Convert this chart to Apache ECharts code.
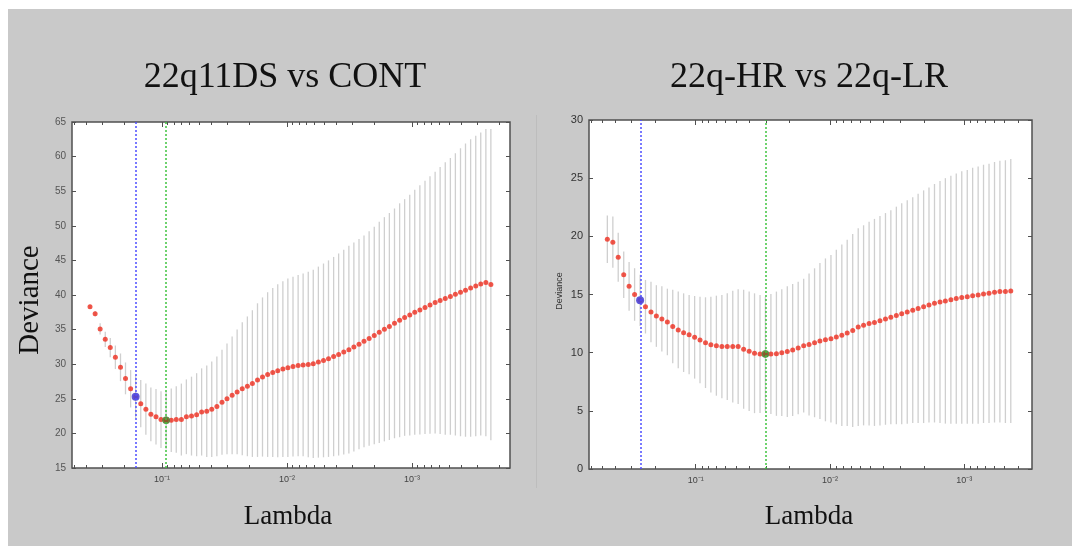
<!DOCTYPE html>
<html>
<head>
<meta charset="utf-8">
<script src="https://cdn.jsdelivr.net/npm/echarts@6.0.0/dist/echarts.min.js"></script>
<style>
  html, body { margin: 0; padding: 0; background: #ffffff; }
  #bg { position: absolute; left: 8px; top: 9px; width: 1064px; height: 537px; background: #c9c9c9; }
  #chart { position: absolute; left: 0; top: 0; width: 1078px; height: 555px; }
</style>
</head>
<body>
<div id="bg"></div>
<div id="chart"></div>
<script>
// ---------- DATA ----------
const panelTitles = ['22q11DS vs CONT', '22q-HR vs 22q-LR'];
const xTickExponents = [-1, -2, -3];
const xTickLabels = ['10\u207B\u00B9', '10\u207B\u00B2', '10\u207B\u00B3'];

// log10(Lambda) of each cross-validated point, left panel
const leftLogLambda = [-0.424,-0.465,-0.505,-0.546,-0.586,-0.627,-0.668,-0.708,-0.749,-0.789,
  -0.830,-0.871,-0.911,-0.952,-0.992,-1.033,-1.074,-1.114,-1.155,-1.195,
  -1.236,-1.277,-1.317,-1.358,-1.398,-1.439,-1.480,-1.520,-1.561,-1.601,
  -1.642,-1.683,-1.723,-1.764,-1.804,-1.845,-1.886,-1.926,-1.967,-2.007,
  -2.048,-2.089,-2.129,-2.170,-2.210,-2.251,-2.292,-2.332,-2.373,-2.413,
  -2.454,-2.495,-2.535,-2.576,-2.616,-2.657,-2.698,-2.738,-2.779,-2.819,
  -2.860,-2.901,-2.941,-2.982,-3.022,-3.063,-3.104,-3.144,-3.185,-3.225,
  -3.266,-3.307,-3.347,-3.388,-3.428,-3.469,-3.510,-3.550,-3.591,-3.631];
const leftMean = [38.3,37.3,35.1,33.6,32.4,31.0,29.55,27.95,26.45,25.3,
  24.3,23.5,22.75,22.4,22.0,21.9,21.9,22.0,22.0,22.4,
  22.5,22.7,23.1,23.2,23.5,23.9,24.5,25.0,25.5,26.0,
  26.45,26.8,27.2,27.7,28.15,28.5,28.8,29.05,29.3,29.5,
  29.65,29.8,29.9,29.95,30.05,30.3,30.55,30.8,31.1,31.4,
  31.75,32.1,32.5,32.9,33.3,33.7,34.15,34.6,35.05,35.45,
  35.9,36.35,36.75,37.1,37.5,37.85,38.2,38.55,38.9,39.2,
  39.5,39.8,40.1,40.4,40.7,41.0,41.3,41.6,41.8,41.5];
const leftSE = [0.3,0.4,0.8,1.1,1.4,1.7,2.0,2.3,2.7,3.1,
  3.4,3.7,3.9,4.0,4.1,4.2,4.6,4.8,5.2,5.4,
  5.7,6.0,6.3,6.6,6.9,7.2,7.6,8.0,8.5,9.0,
  9.6,10.1,10.6,11.1,11.5,11.9,12.2,12.5,12.7,12.9,
  13.0,13.1,13.2,13.4,13.6,13.8,14.0,14.2,14.4,14.6,
  14.8,15.0,15.1,15.2,15.3,15.5,15.7,16.0,16.2,16.4,
  16.6,16.9,17.1,17.4,17.7,18.0,18.3,18.6,18.9,19.3,
  19.7,20.0,20.4,20.8,21.2,21.5,21.7,21.9,22.2,22.5];
const leftOneSEIndex = 9;
const leftMinIndex = 15;

// right panel
const rightLogLambda = [-0.342,-0.383,-0.423,-0.464,-0.504,-0.545,-0.586,-0.626,-0.667,-0.707,
  -0.748,-0.789,-0.829,-0.870,-0.910,-0.951,-0.992,-1.032,-1.073,-1.113,
  -1.154,-1.195,-1.235,-1.276,-1.316,-1.357,-1.398,-1.438,-1.479,-1.519,
  -1.560,-1.601,-1.641,-1.682,-1.722,-1.763,-1.804,-1.844,-1.885,-1.925,
  -1.966,-2.007,-2.047,-2.088,-2.128,-2.169,-2.210,-2.250,-2.291,-2.331,
  -2.372,-2.413,-2.453,-2.494,-2.534,-2.575,-2.616,-2.656,-2.697,-2.737,
  -2.778,-2.819,-2.859,-2.900,-2.940,-2.981,-3.022,-3.062,-3.103,-3.143,
  -3.184,-3.225,-3.265,-3.306,-3.346];
const rightMean = [19.75,19.5,18.2,16.7,15.7,15.0,14.5,13.95,13.5,13.15,
  12.9,12.64,12.24,11.95,11.72,11.55,11.32,11.09,10.86,10.69,
  10.6,10.52,10.52,10.52,10.52,10.29,10.12,9.95,9.89,9.89,
  9.89,9.91,10.0,10.09,10.23,10.4,10.6,10.7,10.85,11.0,
  11.1,11.2,11.35,11.5,11.7,11.9,12.2,12.35,12.5,12.6,
  12.75,12.9,13.05,13.2,13.35,13.5,13.65,13.8,13.95,14.1,
  14.25,14.35,14.45,14.55,14.65,14.75,14.8,14.9,14.95,15.05,
  15.1,15.2,15.25,15.25,15.3];
const rightSE = [2.05,2.2,2.1,2.0,2.1,2.26,2.2,2.3,2.6,2.65,
  2.8,2.86,3.16,3.3,3.38,3.41,3.55,3.71,3.9,4.11,
  4.3,4.44,4.58,4.81,4.93,5.11,5.13,5.15,5.07,4.91,
  5.16,5.34,5.45,5.61,5.67,5.7,5.75,6.1,6.4,6.7,
  7.0,7.2,7.5,7.8,8.0,8.3,8.5,8.6,8.75,8.9,
  9.0,9.1,9.2,9.35,9.5,9.6,9.7,9.85,10.0,10.1,
  10.25,10.4,10.55,10.65,10.75,10.85,10.9,11.0,11.05,11.1,
  11.15,11.2,11.25,11.3,11.35];
const rightOneSEIndex = 6;
const rightMinIndex = 29;

// ---------- CHART ----------
const FRAME = '#505050';
const TICK_FONT = "'Liberation Sans', Arial, sans-serif";
const SERIF = "'Liberation Serif', 'Times New Roman', serif";

function minorTickValues(lo, hi) {
  const out = [];
  for (let n = -5; n <= 0; n++) {
    for (let k = 2; k <= 9; k++) {
      const v = n + Math.log10(k);
      if (v > lo && v < hi) out.push(v);
    }
  }
  return out;
}

function xAxes(gridIndex, min, max) {
  const minors = minorTickValues(min, max);
  const base = {
    gridIndex, type: 'value', inverse: true, min, max,
    axisLine: { show: false }, splitLine: { show: false }
  };
  return [
    Object.assign({}, base, {
      position: 'bottom',
      axisTick: { show: true, inside: true, length: 5, customValues: xTickExponents, lineStyle: { color: FRAME, width: 1 } },
      axisLabel: {
        show: true, customValues: xTickExponents, margin: 7,
        fontSize: 9, color: '#444', fontFamily: TICK_FONT,
        formatter: v => xTickLabels[xTickExponents.indexOf(Math.round(v))] || ''
      }
    }),
    Object.assign({}, base, {
      position: 'bottom',
      axisTick: { show: true, inside: true, length: 3, customValues: minors, lineStyle: { color: FRAME, width: 1 } },
      axisLabel: { show: false }
    }),
    Object.assign({}, base, {
      position: 'top',
      axisTick: { show: true, inside: true, length: 5, customValues: xTickExponents, lineStyle: { color: FRAME, width: 1 } },
      axisLabel: { show: false }
    }),
    Object.assign({}, base, {
      position: 'top',
      axisTick: { show: true, inside: true, length: 3, customValues: minors, lineStyle: { color: FRAME, width: 1 } },
      axisLabel: { show: false }
    })
  ];
}

function yAxes(gridIndex, min, max, fontSize, color) {
  const base = {
    gridIndex, type: 'value', min, max, interval: 5,
    axisLine: { show: false }, splitLine: { show: false }
  };
  return [
    Object.assign({}, base, {
      position: 'left',
      axisTick: { show: true, inside: true, length: 4, lineStyle: { color: FRAME, width: 1 } },
      axisLabel: { show: true, margin: 6, fontSize, color, fontFamily: TICK_FONT }
    }),
    Object.assign({}, base, {
      position: 'right',
      axisTick: { show: true, inside: true, length: 4, lineStyle: { color: FRAME, width: 1 } },
      axisLabel: { show: false }
    })
  ];
}

function panelSeries(xIdx, yIdx, logL, mean, se, oneSE, minI) {
  return [
    {
      type: 'custom', xAxisIndex: xIdx, yAxisIndex: yIdx, silent: true,
      data: logL.map((x, i) => [x, mean[i] - se[i], mean[i] + se[i]]),
      encode: { x: 0, y: [1, 2] },
      renderItem: (params, api) => {
        const p1 = api.coord([api.value(0), api.value(1)]);
        const p2 = api.coord([api.value(0), api.value(2)]);
        return {
          type: 'line',
          shape: { x1: p1[0], y1: p1[1], x2: p2[0], y2: p2[1] },
          style: { stroke: '#cfcfcf', lineWidth: 1.3 }
        };
      },
      z: 1
    },
    {
      type: 'line', xAxisIndex: xIdx, yAxisIndex: yIdx, silent: true,
      data: [], symbol: 'none',
      markLine: {
        silent: true, symbol: 'none', label: { show: false },
        data: [
          { xAxis: logL[oneSE], lineStyle: { color: '#4d4dff', type: [2, 2], width: 1.5, opacity: 1 } },
          { xAxis: logL[minI], lineStyle: { color: '#3fc43f', type: [2, 2], width: 1.5, opacity: 1 } }
        ]
      },
      z: 2
    },
    {
      type: 'scatter', xAxisIndex: xIdx, yAxisIndex: yIdx, silent: true,
      data: logL.map((x, i) => [x, mean[i]]),
      symbol: 'circle', symbolSize: 5,
      itemStyle: { color: '#ee2d1e' },
      z: 3
    },
    {
      type: 'scatter', xAxisIndex: xIdx, yAxisIndex: yIdx, silent: true,
      data: [[logL[oneSE], mean[oneSE]]],
      symbol: 'circle', symbolSize: 8,
      itemStyle: { color: '#4b44d6', opacity: 0.9 }, z: 4
    },
    {
      type: 'scatter', xAxisIndex: xIdx, yAxisIndex: yIdx, silent: true,
      data: [[logL[minI], mean[minI]]],
      symbol: 'circle', symbolSize: 7,
      itemStyle: { color: '#6b5e26', borderColor: '#3a9a3a', borderWidth: 1 }, z: 4
    }
  ];
}

const chart = echarts.init(document.getElementById('chart'), null, { renderer: 'canvas' });

const option = {
  animation: false,
  backgroundColor: 'transparent',
  grid: [
    { left: 72, top: 122, width: 438, height: 346, show: true, backgroundColor: '#ffffff', borderColor: FRAME, borderWidth: 1.5 },
    { left: 589, top: 120, width: 443, height: 349, show: true, backgroundColor: '#ffffff', borderColor: FRAME, borderWidth: 1.5 }
  ],
  xAxis: [].concat(xAxes(0, -3.784, -0.28), xAxes(1, -3.504, -0.2055)),
  yAxis: [].concat(yAxes(0, 15, 65, 10, '#555'), yAxes(1, 0, 30, 11, '#333')),
  series: [].concat(
    panelSeries(0, 0, leftLogLambda, leftMean, leftSE, leftOneSEIndex, leftMinIndex),
    panelSeries(4, 2, rightLogLambda, rightMean, rightSE, rightOneSEIndex, rightMinIndex)
  ),
  graphic: [
    { type: 'line', shape: { x1: 536.5, y1: 115, x2: 536.5, y2: 488 }, style: { stroke: '#bdbdbd', lineWidth: 1 }, silent: true },
    { type: 'text', x: 285, y: 78, style: { text: panelTitles[0], font: '36px ' + SERIF, fill: '#111', align: 'center', verticalAlign: 'middle' } },
    { type: 'text', x: 809, y: 78, style: { text: panelTitles[1], font: '36px ' + SERIF, fill: '#111', align: 'center', verticalAlign: 'middle' } },
    { type: 'text', x: 30, y: 300, rotation: Math.PI / 2, style: { text: 'Deviance', font: '29px ' + SERIF, fill: '#111', align: 'center', verticalAlign: 'middle' } },
    { type: 'text', x: 288, y: 517, style: { text: 'Lambda', font: '27px ' + SERIF, fill: '#111', align: 'center', verticalAlign: 'middle' } },
    { type: 'text', x: 809, y: 517, style: { text: 'Lambda', font: '27px ' + SERIF, fill: '#111', align: 'center', verticalAlign: 'middle' } },
    { type: 'text', x: 560, y: 291, rotation: Math.PI / 2, style: { text: 'Deviance', font: '9px ' + TICK_FONT, fill: '#333', align: 'center', verticalAlign: 'middle' } }
  ]
};
chart.setOption(option);
</script>
</body>
</html>
